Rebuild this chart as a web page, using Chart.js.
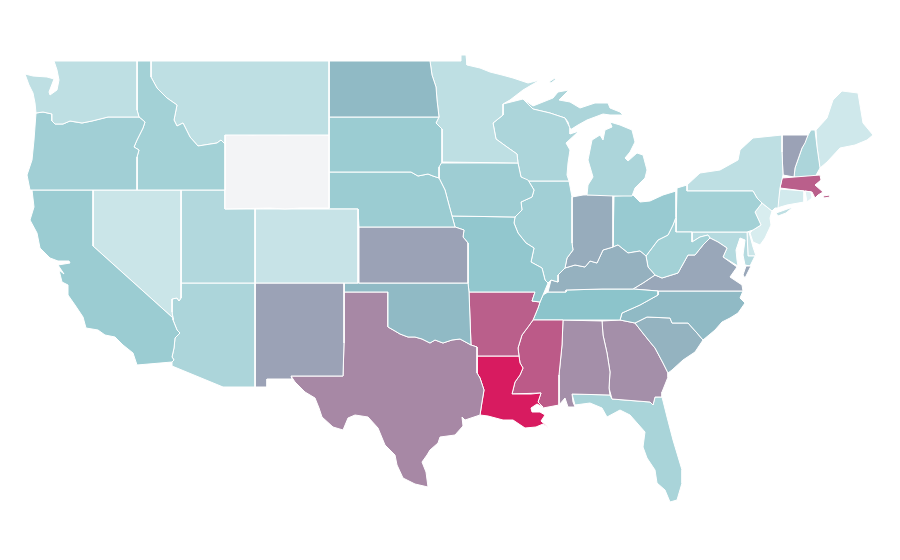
<!DOCTYPE html>
<html>
<head>
<meta charset="utf-8">
<title>US states choropleth</title>
<script src="https://cdn.jsdelivr.net/npm/chart.js@4/dist/chart.umd.min.js"></script>
<style>
  html, body { margin: 0; background: #fff; }
  canvas { display: block; }
</style>
</head>
<body>
<canvas id="map" width="900" height="560"></canvas>
<script>
// state values read off the shading, null = no data
const stateNames = ['WA','OR','CA','ID','NV','MT','WY','UT','AZ','CO','NM','ND','SD','NE','KS','OK','TX',
  'MN','IA','MO','AR','LA','WI','IL','MS','MI','IN','KY','TN','AL','OH','WV','VA','NC','SC','GA','FL',
  'PA','NY','MD','DE','NJ','CT','RI','MA','VT','NH','ME'];
const stateValues = [13,23,25,22,9,13,null,17,19,10,44,34,25,25,44,34,55,
  13,24,28,72,100,19,23,74,19,40,38,30,52,26,22,42,34,37,52,20,
  22,13,16,9,4,6,1,72,44,19,7];

// outlines, in map units
const WA = [[[54,61],[137,61],[137,110],[139,117],[108,117],[100,119],[92,121],[82,123],[70,121],[63,124],[55,124],[52,121],[52,114],[43,112],[36,113],[35,103],[33,93],[29,85],[25,74],[33,76],[47,77],[54,79],[49,92],[50,95],[57,90],[59,80],[57,70]]];
const OR = [[[36,113],[43,112],[52,114],[52,121],[55,124],[63,124],[70,121],[82,123],[92,121],[100,119],[108,117],[139,117],[145,122],[143,128],[137,140],[134,147],[139,150],[137,157],[137,190],[30,190],[27,175],[32,160],[34,140]]];
const CA = [[[32,190],[93,190],[93,246],[173,318],[173,320],[177,330],[180,333],[175,338],[174,348],[172,357],[174,360],[172,362],[137,365],[133,353],[123,345],[115,337],[105,335],[98,330],[86,328],[83,317],[75,305],[68,295],[68,285],[62,282],[59,270],[64,274],[58,265],[70,263],[69,261],[58,261],[50,258],[40,248],[37,233],[30,220],[34,207]]];
const ID = [[[137,61],[151,61],[151,77],[157,88],[167,98],[177,105],[174,120],[177,126],[183,123],[190,137],[198,146],[217,143],[221,140],[225,144],[225,190],[137,190],[137,157],[139,150],[134,147],[137,140],[143,128],[145,122],[139,117],[137,110]]];
const NV = [[[93,190],[181,190],[181,298],[179,301],[177,298],[172,299],[172,312],[173,318],[93,246]]];
const MT = [[[151,61],[329,61],[329,135],[225,135],[225,144],[221,140],[217,143],[198,146],[190,137],[183,123],[177,126],[174,120],[177,105],[167,98],[157,88],[151,77]]];
const WY = [[[225,135],[236,134],[253,135],[264,134],[285,135],[300,134],[329,135],[329,208],[300,208],[285,209],[270,208],[225,209]]];
const UT = [[[181,190],[225,190],[225,209],[255,209],[255,283],[181,283]]];
const AZ = [[[181,283],[255,283],[255,387],[223,387],[172,366],[172,362],[174,360],[172,357],[174,348],[175,338],[180,333],[177,330],[173,320],[173,318],[172,312],[172,299],[177,298],[179,301],[181,298]]];
const CO = [[[255,209],[358,209],[358,283],[255,283]]];
const NM = [[[255,283],[344,283],[344,343],[343,376],[291,376],[292,379],[267,379],[267,387],[255,387]]];
const ND = [[[329,61],[430,61],[432,75],[436,87],[437,100],[439,117],[329,117]]];
const SD = [[[329,117],[439,117],[436,123],[442,129],[442,162],[439,167],[439,178],[433,176],[428,174],[418,176],[411,172],[343,172],[329,172]]];
const NE = [[[329,172],[343,172],[411,172],[418,176],[428,174],[433,176],[439,178],[445,190],[449,205],[452,216],[455,227],[359,227],[358,209],[329,209]]];
const KS = [[[359,227],[455,227],[464,230],[463,237],[468,243],[468,283],[359,283]]];
const OK = [[[344,283],[468,283],[469,292],[471,345],[460,339],[452,340],[443,343],[435,340],[430,343],[422,339],[415,337],[408,337],[400,334],[395,331],[388,327],[388,292],[344,292]]];
const TX = [[[344,292],[388,292],[388,327],[395,331],[400,334],[408,337],[415,337],[422,339],[430,343],[435,340],[443,343],[452,340],[460,339],[471,345],[477,347],[477,373],[480,378],[484,390],[482,402],[480,415],[465,420],[462,417],[463,426],[455,435],[440,437],[438,443],[430,450],[427,455],[422,462],[426,472],[428,487],[415,484],[403,478],[397,465],[395,455],[385,445],[378,428],[368,417],[355,415],[348,418],[343,430],[333,427],[322,417],[319,408],[315,398],[305,392],[295,382],[291,376],[343,376],[344,343]]];
const MN = [[[430,61],[461,61],[461,55],[466,55],[467,65],[480,68],[490,72],[502,75],[513,78],[528,83],[540,80],[523,90],[510,100],[503,104],[503,115],[493,123],[496,139],[507,147],[517,154],[518,163],[442,162],[442,129],[436,123],[439,117],[437,100],[436,87],[432,75]]];
const IA = [[[439,163],[518,163],[521,177],[528,180],[534,190],[532,197],[521,202],[522,210],[515,217],[452,216],[449,205],[445,190],[439,178],[439,167]]];
const MO = [[[452,216],[515,217],[514,223],[518,233],[526,243],[534,248],[531,262],[542,268],[545,280],[548,283],[543,295],[540,302],[532,301],[535,292],[469,292],[468,283],[468,243],[463,237],[464,230],[455,227]]];
const AR = [[[469,292],[535,292],[532,301],[540,302],[538,308],[533,320],[528,327],[522,335],[518,348],[519,356],[477,356],[477,347],[471,345]]];
const LA = [[[477,356],[519,356],[520,363],[523,368],[520,375],[515,382],[512,394],[531,394],[541,393],[538,402],[543,407],[537,404],[531,408],[532,412],[540,412],[545,415],[541,421],[549,428],[543,424],[536,427],[525,428],[513,420],[503,420],[488,416],[480,415],[482,402],[484,390],[480,378],[477,373]]];
const WI = [[[503,104],[523,99],[533,109],[550,113],[565,118],[570,128],[570,134],[579,131],[566,143],[570,150],[568,163],[567,175],[569,181],[527,181],[521,177],[518,163],[517,154],[507,147],[496,139],[493,123],[503,115]]];
const IL = [[[527,181],[569,181],[572,197],[572,243],[573,250],[567,258],[565,268],[558,275],[558,282],[551,280],[548,283],[545,280],[542,268],[531,262],[534,248],[526,243],[518,233],[514,223],[515,217],[522,210],[521,202],[532,197],[534,190],[528,180]]];
const MS = [[[533,320],[563,320],[562,345],[559,375],[559,405],[543,408],[538,402],[541,393],[512,394],[515,382],[520,375],[523,368],[520,363],[519,356],[518,348],[522,335],[528,327]]];
const MI = [
  [[533,106],[553,98],[558,92],[569,90],[559,100],[570,102],[580,108],[595,103],[608,103],[610,108],[620,112],[623,115],[610,115],[603,114],[587,120],[578,125],[570,130],[568,122],[565,118],[550,113],[533,109],[523,99]],
  [[610,122],[620,125],[632,130],[635,142],[630,152],[625,158],[628,161],[637,153],[643,155],[647,170],[645,178],[635,188],[632,196],[614,196],[587,195],[588,185],[593,177],[588,160],[592,140],[600,135],[603,140],[605,130],[612,127]],
  [[549,82],[555,78],[556,79],[551,83]]
];
const IN = [[[572,197],[583,195],[613,194],[613,247],[603,250],[597,263],[590,261],[585,267],[575,265],[565,268],[567,258],[573,250],[572,243]]];
const KY = [[[613,247],[618,245],[628,253],[640,251],[646,256],[648,267],[655,275],[643,283],[633,289],[602,289],[566,290],[566,292],[548,292],[551,280],[558,282],[558,275],[565,268],[575,265],[585,267],[590,261],[597,263],[603,250]]];
const TN = [[[548,292],[566,292],[566,290],[602,289],[633,289],[658,291],[658,295],[640,305],[622,313],[620,320],[563,320],[533,320],[538,308],[540,302],[543,295]]];
const AL = [[[563,320],[602,321],[603,335],[607,353],[610,372],[609,388],[610,395],[572,394],[573,402],[575,407],[568,407],[565,398],[559,405],[559,375],[562,345]]];
const OH = [[[614,196],[633,195],[640,202],[650,201],[663,195],[676,191],[676,217],[673,225],[668,235],[658,240],[652,248],[646,256],[640,251],[628,253],[618,245],[613,247]]];
const WV = [[[676,217],[676,232],[692,232],[692,242],[700,237],[708,235],[710,238],[703,245],[695,255],[688,255],[678,273],[662,278],[655,275],[648,267],[646,256],[652,248],[658,240],[668,235],[673,225]]];
const VA = [
  [[710,238],[718,242],[727,248],[723,257],[737,267],[730,277],[742,285],[743,291],[658,291],[633,289],[643,283],[655,275],[662,278],[678,273],[688,255],[695,255],[703,245]],
  [[746,266],[751,266],[745,278],[743,275]]
];
const NC = [[[658,291],[743,291],[740,298],[745,303],[738,313],[730,318],[722,322],[715,330],[703,340],[697,333],[688,323],[672,323],[670,318],[647,317],[635,323],[620,320],[622,313],[640,305],[658,295]]];
const SC = [[[635,323],[647,317],[670,318],[672,323],[688,323],[697,333],[703,340],[695,352],[683,360],[672,370],[668,373],[663,363],[655,348],[650,342],[642,332]]];
const GA = [[[602,321],[620,320],[635,323],[642,332],[650,342],[655,348],[663,363],[668,373],[668,377],[662,392],[662,397],[655,397],[653,405],[650,402],[612,399],[609,388],[610,372],[607,353],[603,335]]];
const FL = [[[572,394],[610,395],[612,399],[650,402],[653,405],[655,397],[662,397],[667,417],[673,440],[682,470],[682,483],[677,500],[670,502],[665,490],[657,483],[655,470],[647,458],[643,447],[645,432],[630,415],[620,410],[607,417],[602,408],[590,403],[575,405]]];
const PA = [[[676,232],[677,188],[687,185],[687,191],[753,191],[757,198],[762,203],[755,212],[761,225],[753,230],[747,232]]];
const NY = [
  [[782,135],[782,152],[783,175],[780,188],[779,197],[778,208],[775,208],[772,211],[762,203],[757,198],[753,191],[687,191],[687,185],[700,173],[720,170],[738,160],[740,150],[753,138]],
  [[776,213],[793,207],[786,213],[778,216]]
];
const MD = [[[692,232],[747,232],[748,256],[755,256],[750,266],[745,265],[743,255],[745,240],[740,238],[736,250],[737,260],[738,266],[723,257],[727,248],[718,242],[710,238],[708,235],[700,237],[692,242]]];
const DE = [[[747,232],[749,232],[753,247],[756,256],[748,256]]];
const NJ = [[[762,203],[772,211],[770,218],[771,225],[765,238],[760,245],[753,242],[750,233],[753,230],[761,225],[755,212]]];
const CT = [[[780,189],[804,191],[804,202],[787,205],[777,208]]];
const RI = [[[805,191],[811,192],[812,198],[807,202]]];
const MA = [
  [[782,178],[820,175],[821,180],[815,185],[823,192],[818,195],[815,198],[812,192],[780,188]],
  [[823,196],[830,195],[830,197],[824,198]]
];
const VT = [[[782,135],[808,135],[805,143],[802,148],[795,168],[794,177],[783,175],[782,152]]];
const NH = [[[811,130],[815,130],[817,147],[820,168],[815,177],[794,177],[795,168],[802,148],[808,135]]];
const ME = [[[816,130],[827,118],[833,100],[842,91],[858,93],[863,123],[873,135],[867,140],[855,145],[840,148],[827,162],[820,168],[817,147]]];

const stateOutlines = { WA, OR, CA, ID, NV, MT, WY, UT, AZ, CO, NM, ND, SD, NE, KS, OK, TX, MN, IA, MO, AR, LA,
  WI, IL, MS, MI, IN, KY, TN, AL, OH, WV, VA, NC, SC, GA, FL, PA, NY, MD, DE, NJ, CT, RI, MA, VT, NH, ME };

function hexToRgb(hex) {
  return [1, 3, 5].map(i => parseInt(hex.slice(i, i + 2), 16));
}

// light -> teal -> pink
function shade(value) {
  if (value === null) return '#f3f4f6';
  const [a, b, t] = value < 30
    ? ['#e4f3f5', '#8cc4cb', value / 30]
    : ['#8cc4cb', '#d81b60', (value - 30) / 70];
  const ca = hexToRgb(a), cb = hexToRgb(b);
  return 'rgb(' + ca.map((c, i) => Math.round(c + (cb[i] - c) * t)).join(',') + ')';
}

const datasets = [];
stateNames.forEach((name, i) => {
  stateOutlines[name].forEach(ring => {
    const points = ring.concat([ring[0]]).map(p => ({ x: p[0], y: p[1] }));
    datasets.push({
      label: name,
      data: points,
      showLine: true,
      fill: 'shape',
      tension: 0,
      pointRadius: 0,
      borderWidth: 1,
      borderColor: '#ffffff',
      backgroundColor: shade(stateValues[i])
    });
  });
});

new Chart(document.getElementById('map').getContext('2d'), {
  type: 'scatter',
  data: { datasets },
  options: {
    responsive: false,
    animation: false,
    layout: { padding: 0 },
    plugins: { legend: { display: false }, tooltip: { enabled: false } },
    scales: {
      x: { type: 'linear', min: 0, max: 900, display: false },
      y: { type: 'linear', min: 0, max: 560, reverse: true, display: false }
    }
  }
});
</script>
</body>
</html>
